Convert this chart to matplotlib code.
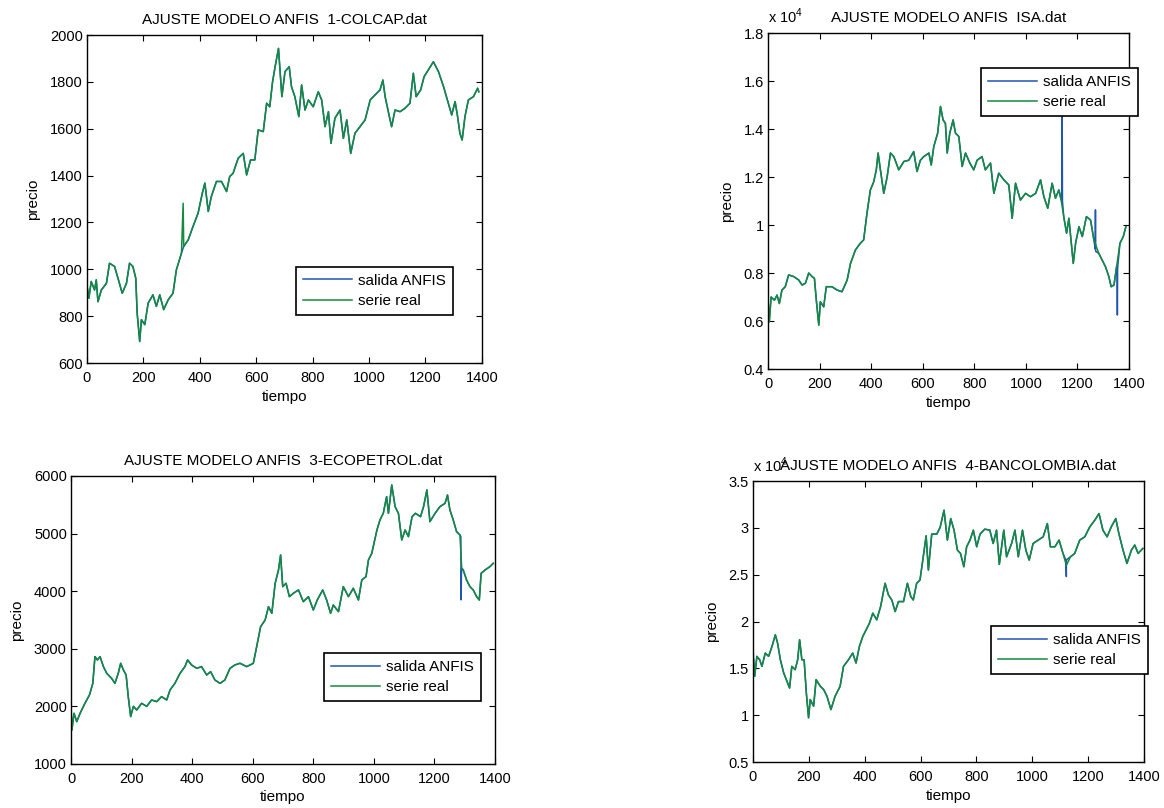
import matplotlib
matplotlib.use("Agg")
import matplotlib.pyplot as plt
from matplotlib.ticker import FuncFormatter

plt.rcParams['font.family'] = ['Liberation Sans', 'DejaVu Sans']
plt.rcParams['mathtext.fontset'] = 'custom'
plt.rcParams['mathtext.rm'] = 'Liberation Sans'
plt.rcParams['font.size'] = 10

AZUL = '#1f55b4'
VERDE = '#138a3e'

# ---- 1-COLCAP ----
t_colcap = [0, 7, 15, 27, 33, 39, 51, 69, 80, 98, 110, 125, 140, 151, 163, 173, 178, 187,
            193, 205, 217, 234, 246, 258, 272, 288, 305, 317, 335, 343, 359, 376, 394, 409,
            418, 430, 441, 459, 477, 495, 506, 518, 536, 554, 566, 580, 595, 607, 625, 637,
            648, 658, 667, 679, 686, 691, 702, 717, 725, 737, 751, 761, 773, 785, 802, 820,
            832, 844, 856, 865, 879, 897, 909, 921, 935, 950, 968, 986, 1004, 1021, 1039,
            1049, 1057, 1072, 1080, 1092, 1110, 1127, 1145, 1157, 1167, 1183, 1195, 1210,
            1228, 1246, 1264, 1281, 1293, 1305, 1313, 1322, 1330, 1340, 1352, 1370, 1385, 1389]
v_colcap = [930, 877, 948, 912, 955, 862, 912, 940, 1026, 1012, 962, 898, 940, 1026, 1012, 962,
            813, 692, 785, 764, 856, 891, 842, 891, 828, 870, 898, 998, 1069, 1098, 1126, 1183,
            1240, 1325, 1368, 1247, 1311, 1375, 1375, 1332, 1396, 1410, 1474, 1495, 1403, 1467,
            1467, 1595, 1588, 1709, 1694, 1801, 1865, 1943, 1822, 1737, 1844, 1865, 1780, 1737,
            1652, 1787, 1680, 1723, 1694, 1758, 1723, 1609, 1673, 1538, 1645, 1680, 1559, 1638,
            1495, 1581, 1609, 1638, 1723, 1744, 1766, 1808, 1737, 1652, 1609, 1680, 1673, 1687,
            1709, 1837, 1737, 1766, 1822, 1851, 1886, 1844, 1780, 1709, 1659, 1716, 1659, 1581,
            1552, 1652, 1723, 1737, 1773, 1758]
real_extra_colcap = ([341], [1282])
anfis_extra_colcap = ([], [])

# ---- ISA ----
t_isa = [0, 5, 12, 25, 35, 44, 54, 67, 80, 100, 119, 132, 145, 158, 171, 180, 188, 197, 203,
         216, 226, 248, 268, 287, 307, 320, 339, 358, 371, 384, 397, 410, 420, 427, 436, 449,
         462, 475, 488, 507, 527, 546, 565, 578, 591, 604, 624, 633, 643, 658, 669, 679, 688,
         695, 705, 718, 727, 740, 753, 766, 783, 798, 811, 830, 843, 863, 876, 895, 915, 934,
         947, 960, 979, 999, 1018, 1038, 1057, 1070, 1085, 1102, 1115, 1128, 1137, 1147, 1158,
         1167, 1184, 1193, 1206, 1219, 1235, 1251, 1264, 1283, 1296, 1309, 1322, 1331, 1342,
         1352, 1365, 1378, 1388]
v_isa = [6870, 5970, 7000, 6870, 7080, 6730, 7290, 7430, 7920, 7850, 7710, 7500, 7570, 8000,
         7850, 7780, 6800, 5830, 6800, 6590, 7430, 7430, 7290, 7220, 7710, 8400, 8960, 9240,
         9380, 10500, 11460, 11800, 12300, 13000, 12300, 11320, 12000, 13000, 12850, 12300,
         12650, 12700, 13060, 12230, 12700, 12850, 13000, 12500, 13270, 13830, 14940, 14380,
         14240, 13000, 13830, 14380, 13830, 13690, 12440, 13000, 12580, 12300, 12700, 12850,
         12300, 12580, 11320, 12160, 11880, 11670, 10280, 11740, 11040, 11320, 11180, 11320,
         11880, 11180, 10700, 11740, 11120, 11460, 11040, 10350, 9660, 10280, 8400, 9240, 9930,
         9520, 10350, 10210, 9380, 8820, 8540, 8260, 7850, 7430, 7500, 8260, 9240, 9520, 9930]
real_extra_isa = ([], [])
anfis_extra_isa = ([1140, 1141, 1142, 1269, 1270, 1271, 1354, 1355, 1356],
                   [11600, 14520, 11000, 9000, 10630, 8900, 8000, 6250, 8200])

# ---- 3-ECOPETROL ----
t_eco = [0, 3, 10, 19, 30, 46, 61, 72, 79, 87, 96, 107, 118, 134, 145, 156, 164, 173, 182,
         189, 197, 206, 217, 233, 250, 266, 283, 299, 316, 327, 343, 360, 376, 385, 398, 415,
         431, 448, 461, 475, 492, 508, 525, 541, 558, 580, 602, 613, 626, 641, 652, 663, 674,
         685, 692, 699, 710, 721, 734, 751, 767, 784, 800, 813, 831, 844, 857, 866, 883, 899,
         916, 932, 949, 960, 974, 982, 993, 1010, 1020, 1031, 1042, 1048, 1059, 1070, 1081,
         1092, 1103, 1114, 1126, 1137, 1154, 1164, 1175, 1185, 1202, 1218, 1235, 1243, 1251,
         1262, 1273, 1284, 1290, 1295, 1306, 1317, 1328, 1339, 1348, 1354, 1367, 1383, 1394]
v_eco = [2000, 1590, 1880, 1735, 1880, 2053, 2198, 2400, 2863, 2806, 2863, 2690, 2574, 2487,
         2400, 2574, 2748, 2632, 2545, 2169, 1822, 2000, 1937, 2053, 2000, 2111, 2082, 2169,
         2111, 2285, 2400, 2574, 2690, 2806, 2719, 2661, 2690, 2545, 2603, 2458, 2400, 2458,
         2661, 2719, 2748, 2690, 2748, 3037, 3384, 3500, 3731, 3616, 4137, 4368, 4628, 4079,
         4137, 3905, 3963, 4021, 3818, 3905, 3674, 3847, 4021, 3847, 3616, 3760, 3645, 4079,
         3905, 4050, 3847, 4194, 4252, 4542, 4657, 5062, 5236, 5352, 5641, 5352, 5844, 5468,
         5352, 4889, 5062, 4947, 5294, 5352, 5294, 5468, 5757, 5207, 5352, 5468, 5525, 5670,
         5410, 5236, 5034, 4976, 4400, 4368, 4194, 4079, 4021, 3905, 3847, 4310, 4368, 4426,
         4484]
real_extra_eco = ([], [])
anfis_extra_eco = ([1287, 1288, 1289], [4950, 3850, 4300])

# ---- 4-BANCOLOMBIA ----
t_banco = [2, 6, 14, 24, 32, 44, 56, 68, 80, 88, 98, 110, 124, 131, 139, 151, 160, 167, 175,
           183, 191, 199, 205, 217, 226, 241, 253, 265, 279, 294, 312, 324, 342, 357, 369, 381,
           393, 405, 417, 429, 443, 457, 473, 485, 497, 509, 521, 539, 553, 565, 574, 586, 598,
           608, 620, 628, 640, 658, 670, 684, 696, 708, 720, 732, 743, 755, 765, 777, 789, 801,
           813, 830, 848, 860, 872, 882, 898, 908, 926, 938, 950, 965, 977, 989, 1003, 1021,
           1039, 1054, 1065, 1081, 1096, 1110, 1122, 1137, 1152, 1170, 1188, 1206, 1224, 1239,
           1253, 1268, 1283, 1299, 1310, 1325, 1339, 1355, 1367, 1379, 1396]
v_banco = [16000, 14150, 16280, 15920, 15210, 16630, 16280, 17340, 18580, 17700, 15920, 14500,
           13440, 12900, 15210, 14860, 15920, 18050, 15920, 15920, 12380, 9720, 11670, 10960,
           13790, 13090, 12730, 12020, 10600, 12020, 13090, 15210, 15920, 16630, 15570, 17340,
           18400, 19110, 19820, 20890, 20180, 21600, 24080, 22840, 22300, 21060, 22130, 22130,
           24080, 22660, 22300, 24080, 24430, 26560, 29150, 25500, 29330, 29330, 30040, 31880,
           28690, 30990, 29750, 27620, 27270, 25850, 27980, 28690, 29750, 27980, 29330, 29860,
           29750, 28330, 29750, 26100, 29750, 26910, 28330, 29750, 26910, 29750, 27620, 26560,
           28330, 28690, 29040, 30460, 27980, 27980, 28690, 27270, 26000, 26910, 27270, 28690,
           29040, 30110, 30820, 31520, 29750, 29040, 30110, 30990, 29400, 27620, 26200, 27620,
           28160, 27270, 27800]
real_extra_banco = ([], [])
anfis_extra_banco = ([0, 1121, 1122, 1123], [17340, 26500, 24800, 26600])

paneles = [
    ('AJUSTE MODELO ANFIS  1-COLCAP.dat', t_colcap, v_colcap, real_extra_colcap, anfis_extra_colcap,
     [0.0747, 0.5507, 0.3393, 0.4059], (600, 2000), list(range(600, 2001, 200)), False,
     (0.2543, 0.6696)),
    ('AJUSTE MODELO ANFIS  ISA.dat', t_isa, v_isa, real_extra_isa, anfis_extra_isa,
     [0.6598, 0.5433, 0.3101, 0.4158], (4000, 18000), list(range(4000, 18001, 2000)), True,
     (0.8428, 0.9158)),
    ('AJUSTE MODELO ANFIS  3-ECOPETROL.dat', t_eco, v_eco, real_extra_eco, anfis_extra_eco,
     [0.0610, 0.0545, 0.3643, 0.3564], (1000, 6000), list(range(1000, 6001, 1000)), False,
     (0.2784, 0.1918)),
    ('AJUSTE MODELO ANFIS  4-BANCOLOMBIA.dat', t_banco, v_banco, real_extra_banco, anfis_extra_banco,
     [0.6469, 0.0569, 0.3359, 0.3478], (5000, 35000), list(range(5000, 35001, 5000)), True,
     (0.8514, 0.2252)),
]


def juntar(t, v, extra):
    pares = sorted(list(zip(t, v)) + list(zip(extra[0], extra[1])))
    return [p[0] for p in pares], [p[1] for p in pares]


fig = plt.figure(figsize=(11.64, 8.08), dpi=100)

for titulo, t, v, extra_real, extra_anfis, pos, ylim, yticks, escala, leg_pos in paneles:
    ax = fig.add_axes(pos)
    ta, va = juntar(t, v, extra_anfis)
    tr, vr = juntar(t, v, extra_real)
    ax.plot(ta, va, color=AZUL, lw=1.1, label='salida ANFIS')
    ax.plot(tr, vr, color=VERDE, lw=1.1, label='serie real')
    ax.set_xlim(0, 1400)
    ax.set_ylim(*ylim)
    ax.set_xticks(range(0, 1401, 200))
    ax.set_yticks(yticks)
    if escala:
        ax.yaxis.set_major_formatter(FuncFormatter(lambda y, p: '%g' % (y / 1e4)))
        ax.text(0.0, 1.02, r'x 10$^{\mathrm{4}}$', transform=ax.transAxes,
                ha='left', va='bottom', fontsize=10.5)
    ax.tick_params(direction='in', top=True, right=True, length=4, width=0.8)
    ax.tick_params(axis='x', pad=6, labelsize=10.5)
    ax.tick_params(axis='y', pad=3, labelsize=10.5)
    for s in ax.spines.values():
        s.set_linewidth(1.0)
    ax.set_title(titulo, fontsize=11, pad=8)
    ax.set_xlabel('tiempo', fontsize=11, labelpad=3)
    ax.set_ylabel('precio', fontsize=11, labelpad=7)
    leg = ax.legend(loc='upper left', bbox_to_anchor=leg_pos, bbox_transform=fig.transFigure,
                    fancybox=False, framealpha=1, edgecolor='black', handlelength=3.2,
                    handletextpad=0.4, borderpad=0.45, labelspacing=0.4, borderaxespad=0,
                    fontsize=11)
    leg.get_frame().set_linewidth(1.2)

fig.savefig('out.png', dpi=100)
